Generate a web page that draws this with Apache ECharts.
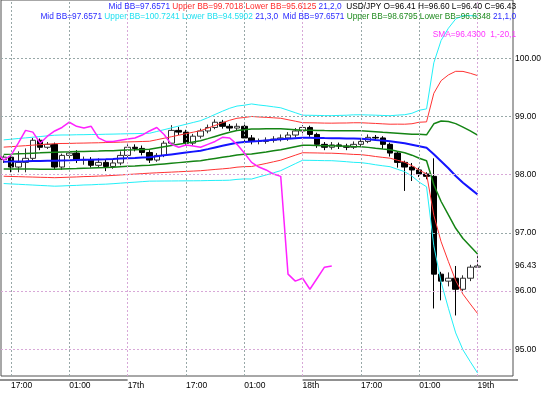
<!DOCTYPE html>
<html>
<head>
<meta charset="utf-8">
<script src="https://cdn.jsdelivr.net/npm/echarts@6/dist/echarts.min.js"></script>
<style>
html,body{margin:0;padding:0;background:#fff;}
#chart{width:549px;height:393px;}
</style>
</head>
<body>
<div id="chart"></div>
<script>
// ---- data (hourly USD/JPY bars, index 0..65) ----
const xLabelIndex = [1, 9, 17, 25, 33, 41, 49, 57, 65];
const xLabelText = ['17:00', '01:00', '17th', '17:00', '01:00', '18th', '17:00', '01:00', '19th'];
const yTickValues = [95, 96, 97, 98, 99, 100];
const lastPrice = 96.43;

const open = [98.26,98.30,98.13,98.21,98.28,98.59,98.47,98.52,98.13,98.33,
  98.37,98.25,98.26,98.16,98.21,98.14,98.20,98.33,98.47,98.45,
  98.38,98.25,98.33,98.54,98.76,98.73,98.54,98.66,98.75,98.81,
  98.90,98.83,98.80,98.83,98.63,98.57,98.57,98.59,98.61,98.63,
  98.68,98.75,98.81,98.69,98.52,98.47,98.51,98.49,98.47,98.52,
  98.57,98.64,98.63,98.52,98.37,98.21,98.13,98.08,98.01,97.97,
  96.29,96.17,96.22,96.03,96.22,96.41];
const high = [98.33,98.33,98.40,98.45,98.63,98.62,98.56,98.55,98.36,98.42,
  98.42,98.31,98.30,98.28,98.26,98.27,98.40,98.52,98.52,98.50,
  98.42,98.37,98.58,98.85,98.82,98.77,98.70,98.79,98.86,98.95,
  98.94,98.87,98.88,98.86,98.68,98.62,98.64,98.66,98.69,98.73,
  98.80,98.85,98.84,98.72,98.56,98.56,98.55,98.53,98.57,98.62,
  98.69,98.68,98.66,98.55,98.40,98.24,98.20,98.12,98.04,98.28,
  96.33,96.32,96.43,96.27,96.45,96.60];
const low = [98.20,98.04,98.04,98.04,98.25,98.42,98.44,98.09,98.08,98.28,
  98.20,98.17,98.12,98.12,98.06,98.10,98.16,98.30,98.40,98.33,
  98.20,98.22,98.30,98.50,98.68,98.50,98.50,98.62,98.71,98.78,
  98.79,98.75,98.76,98.58,98.52,98.52,98.53,98.55,98.57,98.58,
  98.64,98.71,98.65,98.46,98.42,98.43,98.44,98.42,98.44,98.49,
  98.54,98.58,98.44,98.31,98.12,97.72,97.89,97.96,97.92,95.70,
  95.84,96.08,95.58,95.98,96.17,96.40];
const close = [98.30,98.13,98.21,98.28,98.59,98.47,98.52,98.13,98.33,98.37,
  98.25,98.26,98.16,98.21,98.14,98.20,98.33,98.47,98.45,98.38,
  98.25,98.33,98.54,98.76,98.73,98.54,98.66,98.75,98.81,98.90,
  98.83,98.80,98.83,98.63,98.57,98.57,98.59,98.61,98.63,98.68,
  98.75,98.81,98.69,98.52,98.47,98.51,98.49,98.47,98.52,98.57,
  98.64,98.63,98.52,98.37,98.21,98.13,98.08,98.01,97.97,96.29,
  96.17,96.22,96.03,96.22,96.41,96.43];

// Bollinger middle line (21) and one standard deviation, read per bar
const bbMid = [98.222,98.224,98.227,98.229,98.232,98.234,98.237,98.239,98.243,98.246,
  98.250,98.254,98.257,98.261,98.265,98.270,98.276,98.282,98.287,98.293,
  98.299,98.315,98.331,98.347,98.363,98.379,98.395,98.411,98.438,98.467,
  98.495,98.522,98.548,98.559,98.569,98.578,98.588,98.598,98.608,98.617,
  98.626,98.634,98.632,98.630,98.627,98.626,98.624,98.621,98.619,98.617,
  98.607,98.595,98.584,98.574,98.557,98.540,98.514,98.488,98.460,98.349,
  98.230,98.109,97.977,97.859,97.759,97.657];
const bbDev = [0.125,0.128,0.131,0.134,0.137,0.140,0.143,0.146,0.146,0.145,
  0.145,0.144,0.144,0.143,0.143,0.142,0.141,0.140,0.139,0.138,
  0.137,0.142,0.147,0.152,0.157,0.162,0.167,0.172,0.180,0.189,
  0.198,0.206,0.210,0.211,0.215,0.206,0.198,0.189,0.180,0.163,
  0.146,0.129,0.129,0.129,0.129,0.129,0.131,0.133,0.136,0.137,
  0.139,0.142,0.144,0.146,0.155,0.163,0.180,0.206,0.223,0.524,
  0.692,0.802,0.899,0.957,0.991,1.022];
const smaShift = -20;   // SMA(1) shifted 20 bars back

// ---- build ----
const candleData = open.map((o, i) => [i, o, close[i], low[i], high[i]]);
const band = k => bbMid.map((m, i) => [i, +(m + k * bbDev[i]).toFixed(4)]);
const midData = bbMid.map((m, i) => [i, m]);
const smaData = close.map((c, i) => [i + smaShift, c]);

const FONT = 'Liberation Sans';
const TF = 8.3;
const grayGrid = '#98a8a8';
const pinkGrid = '#d8a8d8';
const vPink = ['17th', '18th', '19th'];
const X_MIN = -0.37, X_MAX = 69.86, Y_MIN = 94.54, Y_MAX = 101.0;

const chart = echarts.init(document.getElementById('chart'), null, {renderer: 'canvas'});

function lineSeries(name, data, color, width) {
  return {
    name, type: 'line', data, showSymbol: false, symbol: 'none',
    lineStyle: {color, width}, z: 4, silent: true, animation: false
  };
}

const option = {
  animation: false,
  backgroundColor: '#ffffff',
  title: [
    {
      right: 33, top: 2.5, padding: 0,
      text: '{b|Mid BB=97.6571} {r|Upper BB=99.7018 Lower BB=95.6125} {b|21,2,0}  {k|USD/JPY O=96.41 H=96.60 L=96.40 C=96.43}',
      textStyle: {fontSize: TF, fontFamily: FONT, fontWeight: 'normal', rich: {
        b: {color: '#2b2bff', fontSize: TF, fontFamily: FONT},
        r: {color: '#ff2a2a', fontSize: TF, fontFamily: FONT},
        k: {color: '#000000', fontSize: TF, fontFamily: FONT}
      }}
    },
    {
      right: 33, top: 13, padding: 0,
      text: '{b|Mid BB=97.6571} {c|Upper BB=100.7241 Lower BB=94.5902} {b|21,3,0}  {b|Mid BB=97.6571} {g|Upper BB=98.6795 Lower BB=96.6348} {b|21,1,0}',
      textStyle: {fontSize: TF, fontFamily: FONT, fontWeight: 'normal', rich: {
        b: {color: '#2b2bff', fontSize: TF, fontFamily: FONT},
        c: {color: '#22e0f0', fontSize: TF, fontFamily: FONT},
        g: {color: '#1e8a1e', fontSize: TF, fontFamily: FONT}
      }}
    },
    {
      right: 33, top: 30.5, padding: 0,
      text: 'SMA=96.4300  1,-20,1',
      textStyle: {fontSize: TF, fontFamily: FONT, fontWeight: 'normal', color: '#ff33ff'}
    }
  ],
  grid: {left: 1, right: 36, top: 0, bottom: 17, show: true, borderColor: '#505050', borderWidth: 1, backgroundColor: 'transparent'},
  xAxis: {
    type: 'value', min: X_MIN, max: X_MAX,
    axisLine: {show: false}, axisTick: {show: false}, splitLine: {show: false},
    axisLabel: {
      customValues: xLabelIndex,
      formatter: v => { const k = xLabelIndex.indexOf(Math.round(v)); return k >= 0 ? xLabelText[k] : ''; },
      fontSize: 8.5, fontFamily: FONT, color: '#000', margin: 5, align: 'left'
    }
  },
  yAxis: {
    type: 'value', position: 'right', min: Y_MIN, max: Y_MAX, scale: true,
    axisLine: {show: false}, axisTick: {show: false}, splitLine: {show: false},
    axisLabel: {
      customValues: yTickValues.concat([lastPrice]),
      formatter: v => v.toFixed(2),
      fontSize: 8.5, fontFamily: FONT, color: '#000', margin: 2
    }
  },
  series: [
    {
      name: 'grid', type: 'line', data: [], silent: true, z: 1,
      markLine: {
        silent: true, symbol: 'none', animation: false,
        label: {show: false},
        data: xLabelIndex.map((v, k) => ({xAxis: v, lineStyle: {color: vPink.includes(xLabelText[k]) ? pinkGrid : grayGrid, type: [2, 2], width: 1}}))
          .concat(yTickValues.map(v => ({yAxis: v, lineStyle: {color: (v === 98 || v === 96 || v === 95) ? pinkGrid : grayGrid, type: [2, 2], width: 1}})))
      }
    },
    {
      name: 'USD/JPY', type: 'candlestick', data: candleData,
      encode: {x: 0, y: [1, 2, 3, 4]},
      barWidth: 6, z: 2, silent: true, animation: false,
      itemStyle: {color: '#ffffff', color0: '#000000', borderColor: '#303030', borderColor0: '#000000', borderWidth: 1}
    },
    lineSeries('BB3 upper', band(3), '#22f0f8', 1),
    lineSeries('BB3 lower', band(-3), '#22f0f8', 1),
    lineSeries('BB2 upper', band(2), '#ff3333', 1),
    lineSeries('BB2 lower', band(-2), '#ff3333', 1),
    lineSeries('BB1 upper', band(1), '#148414', 1.5),
    lineSeries('BB1 lower', band(-1), '#148414', 1.5),
    lineSeries('Mid BB', midData, '#1414ff', 2),
    lineSeries('SMA', smaData, '#ff22ff', 1.5)
  ]
};
chart.setOption(option);

// day markers under the time axis
const yPix = chart.convertToPixel({gridIndex: 0}, [0, Y_MIN])[1] + 4;
const d1a = chart.convertToPixel({gridIndex: 0}, [X_MIN, 0])[0];
const d1b = chart.convertToPixel({gridIndex: 0}, [17, 0])[0];
const d2a = chart.convertToPixel({gridIndex: 0}, [41, 0])[0];
const d2b = chart.convertToPixel({gridIndex: 0}, [X_MAX, 0])[0] + 5;
chart.setOption({
  graphic: [
    {type: 'line', shape: {x1: d1a - 1, y1: yPix, x2: d1b, y2: yPix}, style: {stroke: '#909090', lineWidth: 2}, silent: true},
    {type: 'line', shape: {x1: d2a, y1: yPix, x2: d2b, y2: yPix}, style: {stroke: '#909090', lineWidth: 2}, silent: true}
  ]
});
</script>
</body>
</html>
